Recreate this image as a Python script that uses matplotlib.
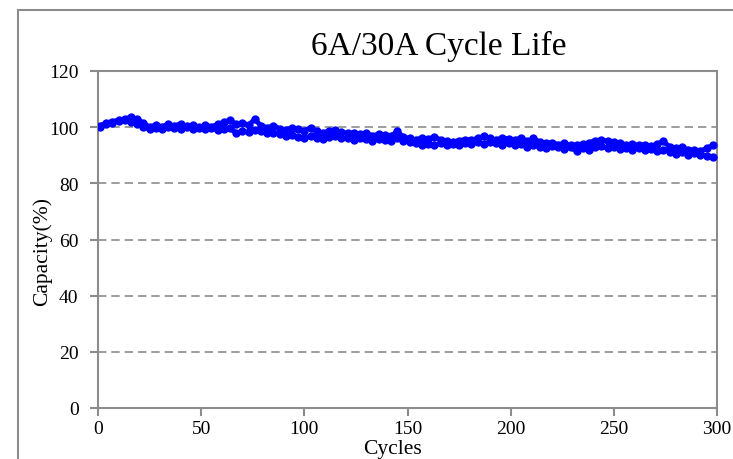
import numpy as np
import matplotlib
matplotlib.use('Agg')
import matplotlib.pyplot as plt
from matplotlib.patches import Rectangle

# data (every 3rd cycle)
cycles = np.arange(1, 301, 3)

cap_a = [100.5, 101.5, 102.0, 102.5, 103.0, 103.5, 102.8, 101.5, 100.0, 100.8,
         100.2, 101.0, 100.5, 101.2, 100.3, 100.8, 100.0, 100.6, 100.2, 101.0,
         101.8, 102.5, 101.0, 101.5, 100.8, 102.8, 100.5, 99.8, 100.5, 99.5,
         99.0, 99.8, 99.2, 98.8, 99.8, 98.5, 98.0, 98.6, 98.9, 98.2,
         97.8, 98.0, 97.5, 97.8, 97.0, 97.5, 97.2, 96.8, 98.5, 96.5,
         96.0, 95.5, 96.2, 95.8, 96.5, 95.5, 95.0, 94.8, 95.2, 95.6,
         95.5, 96.0, 96.8, 96.0, 95.5, 96.2, 95.8, 95.5, 96.2, 95.0,
         96.0, 94.8, 94.2, 94.5, 93.8, 94.2, 93.5, 93.8, 94.0, 94.5,
         95.2, 95.5, 95.0, 94.8, 94.2, 93.8, 94.0, 93.5, 93.8, 93.2,
         94.0, 95.0, 93.0, 92.5, 92.8, 92.0, 91.8, 91.5, 92.5, 93.5]

cap_b = [100.0, 101.0, 101.5, 102.2, 102.5, 102.0, 101.0, 100.2, 99.2, 99.8,
         99.5, 100.0, 99.6, 99.3, 100.0, 99.5, 99.8, 99.2, 99.6, 99.0,
         99.5, 99.8, 97.8, 98.5, 98.2, 99.0, 98.5, 97.8, 98.0, 97.5,
         96.8, 97.2, 96.5, 96.0, 96.8, 96.2, 95.8, 96.5, 97.0, 96.2,
         96.0, 95.5, 96.0, 95.8, 95.2, 95.8, 95.5, 95.0, 96.0, 95.2,
         94.8, 94.2, 93.5, 94.0, 93.5, 94.2, 93.8, 94.0, 93.8, 94.5,
         94.0, 94.6, 94.0, 94.8, 94.2, 93.8, 94.5, 93.5, 94.0, 92.8,
         93.5, 93.0, 92.5, 93.2, 92.8, 92.2, 92.8, 91.5, 92.5, 92.0,
         92.8, 93.2, 92.5, 93.0, 92.2, 92.6, 92.0, 92.5, 91.8, 92.4,
         91.5, 92.0, 91.2, 90.5, 91.0, 90.2, 90.8, 90.0, 89.8, 89.5]

xticks = [0, 50, 100, 150, 200, 250, 300]
yticks = [0, 20, 40, 60, 80, 100, 120]

plt.rcParams['font.family'] = ['Liberation Serif', 'DejaVu Serif']

fig = plt.figure(figsize=(7.33, 4.6), dpi=100)
ax = fig.add_axes([98/733, 1-409/460, (717-98)/733, (409-72)/460])

# outer chart border (runs off the right/bottom edge)
fig.patches.append(Rectangle((18/733, -0.1), 1.0, 1.1 - 11/460,
                             transform=fig.transFigure, fill=False,
                             edgecolor='#8c8c8c', lw=1.5))

ax.plot(cycles, cap_a, '-o', color='#0000ff', lw=3.5, ms=5, zorder=3)
ax.plot(cycles, cap_b, '-o', color='#0000ff', lw=3.5, ms=5, zorder=3)

ax.set_xlim(0, 300)
ax.set_ylim(0, 120)
ax.set_xticks(xticks)
ax.set_yticks(yticks)
ax.yaxis.grid(True, color='#8c8c8c', ls=(0, (5, 3)), lw=1.2)
ax.set_axisbelow(True)

for s in ax.spines.values():
    s.set_color('#8c8c8c')
    s.set_linewidth(1.5)

ax.tick_params(direction='out', length=6, width=1.5, color='#8c8c8c',
               labelsize=14)
ax.tick_params(axis='y', pad=8)
ax.tick_params(axis='x', pad=3)

fig.text(393/733, 1-450/460, 'Cycles', fontsize=15.5, ha='center', va='center')
fig.text(42/733, 1-252/460, 'Capacity(%)', fontsize=15.5, ha='center',
         va='center', rotation=90)
fig.text(439/733, 1-46/460, '6A/30A Cycle Life', fontsize=24,
         ha='center', va='center')

fig.savefig('out.png', dpi=100)
